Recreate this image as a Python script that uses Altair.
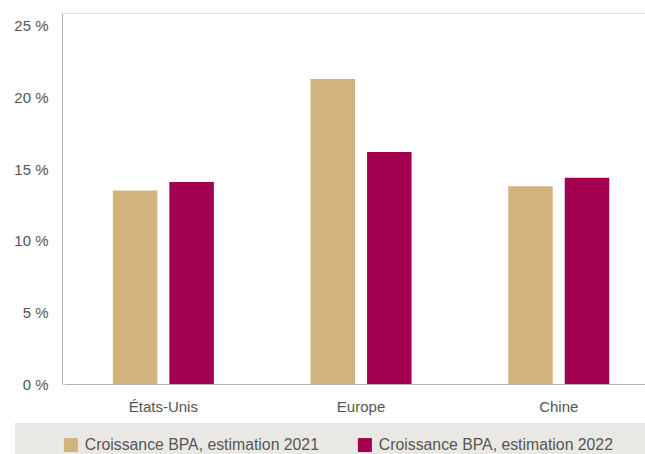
import altair as alt
import pandas as pd

# Croissance du bénéfice par action (BPA), en %
regions = ["États-Unis", "Europe", "Chine"]
series = ["Croissance BPA, estimation 2021", "Croissance BPA, estimation 2022"]
bpa_2021 = [13.5, 21.3, 13.8]
bpa_2022 = [14.1, 16.2, 14.4]
y_ticks = [0, 5, 10, 15, 20, 25]

colors = ["#d3b37d", "#a50050"]
font = "Liberation Sans"
text_color = "#555555"

rows = []
for r, a, b in zip(regions, bpa_2021, bpa_2022):
    rows.append({"region": r, "serie": series[0], "valeur": a})
    rows.append({"region": r, "serie": series[1], "valeur": b})
df = pd.DataFrame(rows)

W, H = 583, 371

bars = alt.Chart(df).mark_bar().encode(
    x=alt.X(
        "region:N",
        sort=regions,
        scale=alt.Scale(range=[2.5, 595.6], paddingInner=0, paddingOuter=0),
        axis=alt.Axis(
            title=None, labelAngle=0, ticks=False, labelPadding=15,
            labelFontSize=15, labelColor=text_color, labelFont=font,
            domainColor="#b5b5b5", domainWidth=1,
        ),
    ),
    xOffset=alt.XOffset(
        "serie:N", sort=series,
        scale=alt.Scale(paddingInner=0.212, paddingOuter=0.855),
    ),
    y=alt.Y(
        "valeur:Q",
        scale=alt.Scale(domain=[0, 25.9], nice=False),
        axis=alt.Axis(
            title=None, values=y_ticks, grid=False, ticks=False,
            labelExpr="datum.value + ' %'", labelPadding=14,
            labelFontSize=15, labelColor=text_color, labelFont=font,
            domainColor="#b5b5b5", domainWidth=1,
        ),
    ),
    color=alt.Color(
        "serie:N", sort=series,
        scale=alt.Scale(domain=series, range=colors),
        legend=alt.Legend(
            title=None, orient="none", direction="horizontal",
            legendX=1, legendY=424, symbolType="square", symbolSize=196,
            symbolStrokeWidth=0, symbolOpacity=1, labelFontSize=15.8,
            labelColor=text_color, labelFont=font, labelOffset=6,
            columnPadding=38, padding=0, labelLimit=400,
        ),
    ),
)

# Bandeau gris derrière la légende
band = alt.Chart(pd.DataFrame({"k": [0]})).mark_rect(color="#eae8e4").encode(
    x=alt.value(-47), x2=alt.value(W), y=alt.value(410), y2=alt.value(445)
)

chart = alt.layer(band, bars).properties(
    width=W, height=H,
    autosize=alt.AutoSizeParams(type="none"),
    padding={"left": 62, "top": 13, "right": 0, "bottom": 70},
).configure_view(stroke=None).configure(background="white")

chart.save("out.html", embed_options={"renderer": "svg", "actions": False})
